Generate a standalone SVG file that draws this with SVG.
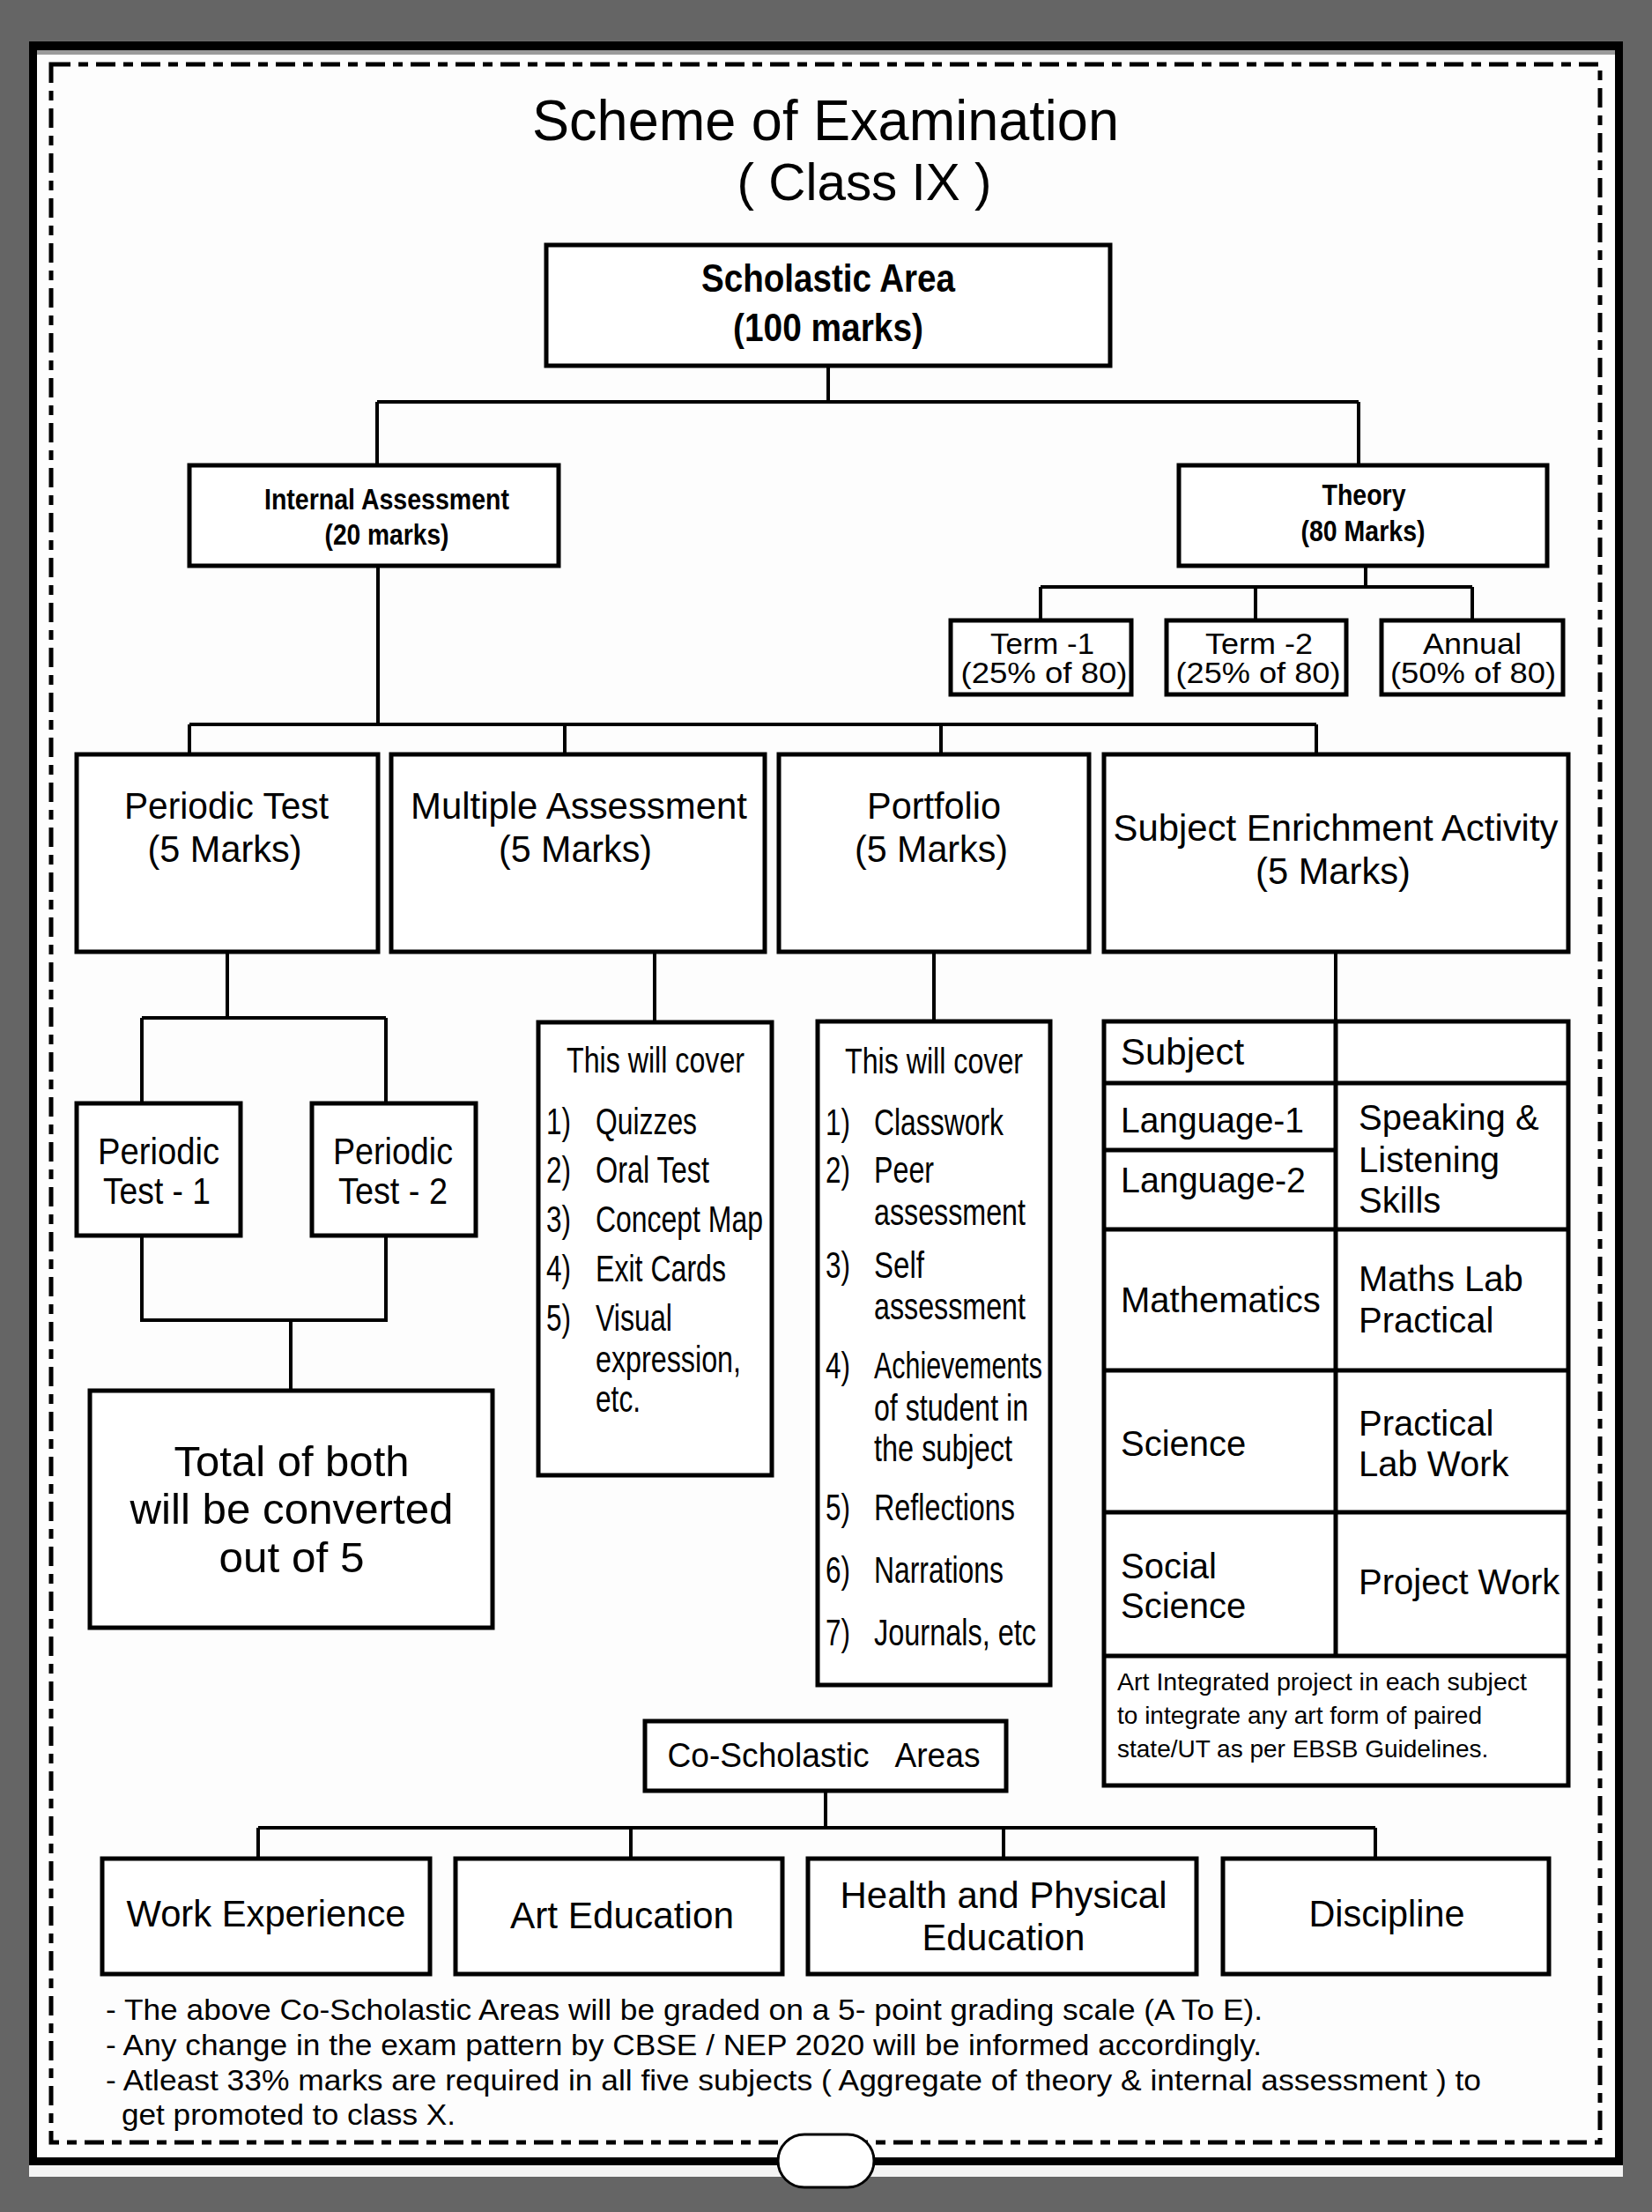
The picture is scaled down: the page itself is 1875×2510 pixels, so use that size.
<svg xmlns="http://www.w3.org/2000/svg" width="1875" height="2510" viewBox="0 0 1875 2510">
<style>
text{font-family:"Liberation Sans",Arial,sans-serif;fill:#000}
.m{text-anchor:middle}
.b{font-weight:bold}
.box{fill:#fff;stroke:#000;stroke-width:5}
.conn path{fill:none;stroke:#000;stroke-width:4}
.tl{fill:none;stroke:#000;stroke-width:5}
.f40{font-size:40px}
.f41{font-size:42px}
.li{font-size:42px}
</style>
<rect x="0" y="0" width="1875" height="2510" fill="#656565"/>
<rect x="33" y="2440" width="1809" height="30" fill="#f4f4f4"/>
<rect x="33" y="47" width="1809" height="2410" fill="#000"/>
<rect x="42" y="57" width="1791" height="2391" fill="#fdfdfd"/>
<rect x="42" y="57" width="1791" height="5" fill="#9a9a9a"/>
<rect x="58" y="73" width="1758" height="2358" fill="none" stroke="#000" stroke-width="5" stroke-dasharray="22 9 11 9"/>
<rect x="883" y="2422" width="109" height="60" rx="30" fill="#fff" stroke="#000" stroke-width="3"/>

<g id="title">
<text class="m" x="937" y="159" font-size="64" textLength="666" lengthAdjust="spacingAndGlyphs">Scheme of Examination</text>
<text class="m" x="981" y="227" font-size="59" textLength="289" lengthAdjust="spacingAndGlyphs">( Class IX )</text>
</g>

<g id="connectors" class="conn">
<path d="M940 415V456M428 456H1542M428 456V528M1542 456V528"/>
<path d="M1550 642V666M1181 666H1671M1181 666V704M1425 666V704M1671 666V704"/>
<path d="M429 642V822M215 822H1494M215 822V856M641 822V856M1068 822V856M1494 822V856"/>
<path d="M258 1080V1155M161 1155H438M161 1155V1252M438 1155V1252"/>
<path d="M161 1402V1498H438V1402M330 1498V1578"/>
<path d="M743 1080V1160M1060 1080V1159M1516 1080V1159"/>
<path d="M937 2032V2074M293 2074H1561M293 2074V2109M716 2074V2109M1139 2074V2109M1561 2074V2109"/>
</g>

<g id="scholastic">
<rect class="box" x="620" y="278" width="640" height="137"/>
<text class="m b" x="940" y="331" font-size="44" textLength="288" lengthAdjust="spacingAndGlyphs">Scholastic Area</text>
<text class="m b" x="940" y="387" font-size="44" textLength="216" lengthAdjust="spacingAndGlyphs">(100 marks)</text>
</g>

<g id="internal">
<rect class="box" x="215" y="528" width="419" height="114"/>
<text class="m b" x="439" y="578" font-size="33" textLength="278" lengthAdjust="spacingAndGlyphs">Internal Assessment</text>
<text class="m b" x="439" y="618" font-size="33" textLength="141" lengthAdjust="spacingAndGlyphs">(20 marks)</text>
</g>

<g id="theory">
<rect class="box" x="1338" y="528" width="418" height="114"/>
<text class="m b" x="1548" y="573" font-size="33" textLength="95" lengthAdjust="spacingAndGlyphs">Theory</text>
<text class="m b" x="1547" y="614" font-size="33" textLength="141" lengthAdjust="spacingAndGlyphs">(80 Marks)</text>
</g>

<g id="term1">
<rect class="box" x="1079" y="704" width="205" height="84"/>
<text class="m" x="1183" y="742" font-size="34" textLength="118" lengthAdjust="spacingAndGlyphs">Term -1</text>
<text class="m" x="1185" y="775" font-size="34" textLength="189" lengthAdjust="spacingAndGlyphs">(25% of 80)</text>
</g>
<g id="term2">
<rect class="box" x="1324" y="704" width="204" height="84"/>
<text class="m" x="1429" y="742" font-size="34" textLength="122" lengthAdjust="spacingAndGlyphs">Term -2</text>
<text class="m" x="1428" y="775" font-size="34" textLength="187" lengthAdjust="spacingAndGlyphs">(25% of 80)</text>
</g>
<g id="annual">
<rect class="box" x="1568" y="704" width="206" height="84"/>
<text class="m" x="1671" y="742" font-size="34" textLength="112" lengthAdjust="spacingAndGlyphs">Annual</text>
<text class="m" x="1672" y="775" font-size="34" textLength="188" lengthAdjust="spacingAndGlyphs">(50% of 80)</text>
</g>

<g id="periodic-test">
<rect class="box" x="87" y="856" width="342" height="224"/>
<text class="m f41" x="257" y="929" textLength="232" lengthAdjust="spacingAndGlyphs">Periodic Test</text>
<text class="m f41" x="255" y="978" textLength="175" lengthAdjust="spacingAndGlyphs">(5 Marks)</text>
</g>
<g id="multiple-assessment">
<rect class="box" x="444" y="856" width="424" height="224"/>
<text class="m f41" x="657" y="929" textLength="382" lengthAdjust="spacingAndGlyphs">Multiple Assessment</text>
<text class="m f41" x="653" y="978" textLength="174" lengthAdjust="spacingAndGlyphs">(5 Marks)</text>
</g>
<g id="portfolio">
<rect class="box" x="884" y="856" width="352" height="224"/>
<text class="m f41" x="1060" y="929" textLength="152" lengthAdjust="spacingAndGlyphs">Portfolio</text>
<text class="m f41" x="1057" y="978" textLength="174" lengthAdjust="spacingAndGlyphs">(5 Marks)</text>
</g>
<g id="subject-enrichment">
<rect class="box" x="1253" y="856" width="527" height="224"/>
<text class="m f41" x="1516" y="954" textLength="505" lengthAdjust="spacingAndGlyphs">Subject Enrichment Activity</text>
<text class="m f41" x="1513" y="1003" textLength="176" lengthAdjust="spacingAndGlyphs">(5 Marks)</text>
</g>

<g id="pt1">
<rect class="box" x="87" y="1252" width="186" height="150"/>
<text class="m f41" x="180" y="1321" textLength="138" lengthAdjust="spacingAndGlyphs">Periodic</text>
<text class="m f41" x="178" y="1366" textLength="122" lengthAdjust="spacingAndGlyphs">Test - 1</text>
</g>
<g id="pt2">
<rect class="box" x="354" y="1252" width="186" height="150"/>
<text class="m f41" x="446" y="1321" textLength="136" lengthAdjust="spacingAndGlyphs">Periodic</text>
<text class="m f41" x="446" y="1366" textLength="124" lengthAdjust="spacingAndGlyphs">Test - 2</text>
</g>
<g id="total">
<rect class="box" x="102" y="1578" width="457" height="269"/>
<text class="m" x="331" y="1675" font-size="48" textLength="267" lengthAdjust="spacingAndGlyphs">Total of both</text>
<text class="m" x="331" y="1729" font-size="48" textLength="367" lengthAdjust="spacingAndGlyphs">will be converted</text>
<text class="m" x="331" y="1784" font-size="48" textLength="165" lengthAdjust="spacingAndGlyphs">out of 5</text>
</g>

<g id="ma-list" class="li">
<rect class="box" x="611" y="1160" width="265" height="514"/>
<text class="m" x="744" y="1217" font-size="40" textLength="202" lengthAdjust="spacingAndGlyphs">This will cover</text>
<text x="620" y="1287" textLength="28" lengthAdjust="spacingAndGlyphs">1)</text>
<text x="676" y="1287" textLength="115" lengthAdjust="spacingAndGlyphs">Quizzes</text>
<text x="620" y="1342" textLength="28" lengthAdjust="spacingAndGlyphs">2)</text>
<text x="676" y="1342" textLength="129" lengthAdjust="spacingAndGlyphs">Oral Test</text>
<text x="620" y="1398" textLength="28" lengthAdjust="spacingAndGlyphs">3)</text>
<text x="676" y="1398" textLength="190" lengthAdjust="spacingAndGlyphs">Concept Map</text>
<text x="620" y="1454" textLength="28" lengthAdjust="spacingAndGlyphs">4)</text>
<text x="676" y="1454" textLength="148" lengthAdjust="spacingAndGlyphs">Exit Cards</text>
<text x="620" y="1510" textLength="28" lengthAdjust="spacingAndGlyphs">5)</text>
<text x="676" y="1510" textLength="87" lengthAdjust="spacingAndGlyphs">Visual</text>
<text x="676" y="1557" textLength="165" lengthAdjust="spacingAndGlyphs">expression,</text>
<text x="676" y="1602" textLength="51" lengthAdjust="spacingAndGlyphs">etc.</text>
</g>

<g id="portfolio-list" class="li">
<rect class="box" x="928" y="1159" width="264" height="753"/>
<text class="m" x="1060" y="1218" font-size="40" textLength="202" lengthAdjust="spacingAndGlyphs">This will cover</text>
<text x="937" y="1288" textLength="28" lengthAdjust="spacingAndGlyphs">1)</text>
<text x="992" y="1288" textLength="147" lengthAdjust="spacingAndGlyphs">Classwork</text>
<text x="937" y="1342" textLength="28" lengthAdjust="spacingAndGlyphs">2)</text>
<text x="992" y="1342" textLength="68" lengthAdjust="spacingAndGlyphs">Peer</text>
<text x="992" y="1390" textLength="172" lengthAdjust="spacingAndGlyphs">assessment</text>
<text x="937" y="1450" textLength="28" lengthAdjust="spacingAndGlyphs">3)</text>
<text x="992" y="1450" textLength="57" lengthAdjust="spacingAndGlyphs">Self</text>
<text x="992" y="1497" textLength="172" lengthAdjust="spacingAndGlyphs">assessment</text>
<text x="937" y="1564" textLength="28" lengthAdjust="spacingAndGlyphs">4)</text>
<text x="992" y="1564" textLength="191" lengthAdjust="spacingAndGlyphs">Achievements</text>
<text x="992" y="1612" textLength="175" lengthAdjust="spacingAndGlyphs">of student in</text>
<text x="992" y="1658" textLength="157" lengthAdjust="spacingAndGlyphs">the subject</text>
<text x="937" y="1725" textLength="28" lengthAdjust="spacingAndGlyphs">5)</text>
<text x="992" y="1725" textLength="160" lengthAdjust="spacingAndGlyphs">Reflections</text>
<text x="937" y="1796" textLength="28" lengthAdjust="spacingAndGlyphs">6)</text>
<text x="992" y="1796" textLength="147" lengthAdjust="spacingAndGlyphs">Narrations</text>
<text x="937" y="1867" textLength="28" lengthAdjust="spacingAndGlyphs">7)</text>
<text x="992" y="1867" textLength="184" lengthAdjust="spacingAndGlyphs">Journals, etc</text>
</g>

<g id="subject-table" class="f40">
<rect class="box" x="1253" y="1159" width="527" height="867"/>
<path class="tl" d="M1516 1159V1879M1253 1229H1780M1253 1305H1516M1253 1395H1780M1253 1555H1780M1253 1716H1780M1253 1879H1780"/>
<text x="1272" y="1208" font-size="42">Subject</text>
<text x="1272" y="1285" textLength="208" lengthAdjust="spacingAndGlyphs">Language-1</text>
<text x="1272" y="1353" textLength="210" lengthAdjust="spacingAndGlyphs">Language-2</text>
<text x="1542" y="1282">Speaking &amp;</text>
<text x="1542" y="1330">Listening</text>
<text x="1542" y="1376">Skills</text>
<text x="1272" y="1489">Mathematics</text>
<text x="1542" y="1465">Maths Lab</text>
<text x="1542" y="1512">Practical</text>
<text x="1272" y="1652">Science</text>
<text x="1542" y="1629">Practical</text>
<text x="1542" y="1675">Lab Work</text>
<text x="1272" y="1791">Social</text>
<text x="1272" y="1836">Science</text>
<text x="1542" y="1809">Project Work</text>
<text x="1268" y="1918" font-size="28" textLength="465" lengthAdjust="spacingAndGlyphs">Art Integrated project in each subject</text>
<text x="1268" y="1956" font-size="28">to integrate any art form of paired</text>
<text x="1268" y="1994" font-size="28">state/UT as per EBSB Guidelines.</text>
</g>

<g id="co-scholastic">
<rect class="box" x="732" y="1953" width="410" height="79"/>
<text class="m" x="935" y="2005" font-size="38" xml:space="preserve" textLength="355" lengthAdjust="spacingAndGlyphs">Co-Scholastic   Areas</text>
</g>
<g id="work-experience">
<rect class="box" x="116" y="2109" width="372" height="131"/>
<text class="m f41" x="302" y="2186" textLength="317" lengthAdjust="spacingAndGlyphs">Work Experience</text>
</g>
<g id="art-education">
<rect class="box" x="517" y="2109" width="371" height="131"/>
<text class="m f41" x="706" y="2188" textLength="254" lengthAdjust="spacingAndGlyphs">Art Education</text>
</g>
<g id="health-physical">
<rect class="box" x="917" y="2109" width="441" height="131"/>
<text class="m f41" x="1139" y="2165" textLength="371" lengthAdjust="spacingAndGlyphs">Health and Physical</text>
<text class="m f41" x="1139" y="2213" textLength="185" lengthAdjust="spacingAndGlyphs">Education</text>
</g>
<g id="discipline">
<rect class="box" x="1388" y="2109" width="370" height="131"/>
<text class="m f41" x="1574" y="2186" textLength="177" lengthAdjust="spacingAndGlyphs">Discipline</text>
</g>

<g id="notes" font-size="33">
<text x="120" y="2292" textLength="1313" lengthAdjust="spacingAndGlyphs">- The above Co-Scholastic Areas will be graded on a 5- point grading scale (A To E).</text>
<text x="120" y="2332" textLength="1312" lengthAdjust="spacingAndGlyphs">- Any change in the exam pattern by CBSE / NEP 2020 will be informed accordingly.</text>
<text x="120" y="2372" textLength="1561" lengthAdjust="spacingAndGlyphs">- Atleast 33% marks are required in all five subjects ( Aggregate of theory &amp; internal assessment ) to</text>
<text x="138" y="2411" textLength="379" lengthAdjust="spacingAndGlyphs">get promoted to class X.</text>
</g>
</svg>
